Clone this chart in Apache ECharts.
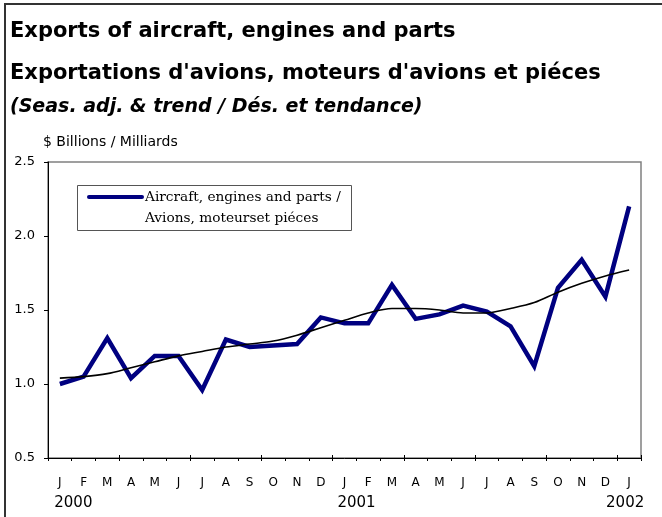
<!DOCTYPE html>
<html>
<head>
<meta charset="utf-8">
<script src="https://cdn.jsdelivr.net/npm/echarts@6/dist/echarts.min.js"></script>
<style>
  html, body { margin: 0; padding: 0; background: #fff; }
  #chart { width: 662px; height: 517px; }
</style>
</head>
<body>
<div id="chart"></div>
<script>
// monthly periods, Jan 2000 .. Jan 2002
var periods = ['2000-01','2000-02','2000-03','2000-04','2000-05','2000-06','2000-07','2000-08','2000-09','2000-10','2000-11','2000-12',
               '2001-01','2001-02','2001-03','2001-04','2001-05','2001-06','2001-07','2001-08','2001-09','2001-10','2001-11','2001-12',
               '2002-01']
var monthLetters = ['J','F','M','A','M','J','J','A','S','O','N','D']
var yearLabels = ['2000','2001','2002']

// $ billions
var exportsSA = [1.00,1.05,1.31,1.04,1.19,1.19,0.96,1.30,1.25,1.26,1.27,1.45,
                 1.41,1.41,1.67,1.44,1.47,1.53,1.49,1.39,1.12,1.65,1.84,1.59,
                 2.20]
var exportsTrend = [1.04,1.05,1.07,1.11,1.15,1.19,1.22,1.25,1.27,1.29,1.33,1.38,
                    1.43,1.48,1.51,1.51,1.50,1.48,1.48,1.51,1.55,1.62,1.68,1.73,
                    1.77]

var yTicks = [0.5, 2.5, 0.5] // min, max, interval

var chart = echarts.init(document.getElementById('chart'))

var labelFont = 'DejaVu Sans'

function xLabel(value, index) {
  var m = monthLetters[Number(value.slice(5, 7)) - 1]
  if (value.slice(5, 7) == '01') {
    var yr = value.slice(0, 4)
    var key = yr == yearLabels[0] ? 'y0' : (yr == yearLabels[1] ? 'y1' : 'y2')
    return '{m|' + m + '}\n{' + key + '|' + yr + '}'
  }
  return '{m|' + m + '}'
}

var option = {
  animation: false,
  backgroundColor: '#fff',
  title: [
    {
      text: 'Exports of aircraft, engines and parts',
      left: 10, top: 20, padding: 0,
      textStyle: { fontFamily: labelFont, fontWeight: 'bold', fontSize: 21, lineHeight: 24, color: '#000' }
    },
    {
      text: "Exportations d'avions, moteurs d'avions et piéces",
      left: 10, top: 62, padding: 0,
      textStyle: { fontFamily: labelFont, fontWeight: 'bold', fontSize: 21, lineHeight: 24, color: '#000' }
    },
    {
      text: '(Seas. adj. & trend / Dés. et tendance)',
      left: 10, top: 96, padding: 0,
      textStyle: { fontFamily: labelFont, fontWeight: 'bold', fontStyle: 'italic', fontSize: 19, lineHeight: 22, color: '#000' }
    },
    {
      text: '$ Billions / Milliards',
      left: 43, top: 134, padding: 0,
      textStyle: { fontFamily: labelFont, fontWeight: 'normal', fontSize: 14, lineHeight: 16, color: '#000' }
    }
  ],
  grid: {
    left: 48, right: 21, top: 162, bottom: 59,
    show: true, borderColor: '#808080', borderWidth: 1.5, backgroundColor: 'transparent'
  },
  xAxis: [
    {
      type: 'category',
      data: periods,
      boundaryGap: true,
      axisLine: { lineStyle: { color: '#000', width: 1 } },
      axisTick: { show: true, length: 3, lineStyle: { color: '#000' } },
      axisLabel: {
        interval: 0,
        margin: 14,
        formatter: xLabel,
        rich: {
          m: { fontFamily: labelFont, fontSize: 12, color: '#000', lineHeight: 21, align: 'center' },
          y0: { fontFamily: labelFont, fontSize: 15, color: '#000', lineHeight: 21, padding: [0, 0, 0, 27] },
          y1: { fontFamily: labelFont, fontSize: 15, color: '#000', lineHeight: 21, padding: [0, 0, 0, 24] },
          y2: { fontFamily: labelFont, fontSize: 15, color: '#000', lineHeight: 21, padding: [0, 8, 0, 0] }
        }
      },
      splitLine: { show: false }
    },
    {
      // inner half of the crossing ticks
      type: 'category',
      data: periods,
      position: 'bottom',
      boundaryGap: true,
      axisLine: { show: false },
      axisTick: { show: true, inside: true, length: 3, lineStyle: { color: '#000' } },
      axisLabel: { show: false },
      splitLine: { show: false }
    }
  ],
  yAxis: {
    type: 'value',
    min: yTicks[0], max: yTicks[1], interval: yTicks[2],
    axisLine: { show: true, lineStyle: { color: '#000', width: 1 } },
    axisTick: { show: true, length: 4, lineStyle: { color: '#000' } },
    axisLabel: {
      margin: 13,
      fontFamily: labelFont, fontSize: 13, color: '#000',
      formatter: function (v) { return v.toFixed(1) }
    },
    splitLine: { show: false }
  },
  series: [
    {
      name: 'Aircraft, engines and parts / Avions, moteurset piéces',
      type: 'line',
      data: exportsSA,
      showSymbol: false,
      symbol: 'none',
      lineStyle: { color: '#000080', width: 4.5, join: 'miter' },
      itemStyle: { color: '#000080' },
      z: 2
    },
    {
      name: 'Trend',
      type: 'line',
      data: exportsTrend,
      smooth: 0.3,
      showSymbol: false,
      symbol: 'none',
      lineStyle: { color: '#000', width: 1.6 },
      itemStyle: { color: '#000' },
      z: 3
    }
  ],
  graphic: [
    // outer frame (left and top)
    { type: 'polyline', shape: { points: [[5, 517], [5, 4], [662, 4]] }, style: { stroke: '#333', lineWidth: 2, fill: null } },
    // legend box
    {
      type: 'group', left: 77, top: 185,
      children: [
        { type: 'rect', shape: { x: 0.5, y: 0.5, width: 274, height: 45 }, style: { fill: '#fff', stroke: '#555', lineWidth: 1 } },
        { type: 'line', shape: { x1: 12, y1: 12, x2: 65, y2: 12 }, style: { stroke: '#000080', lineWidth: 4, lineCap: 'round' } },
        { type: 'text', x: 68, y: 12, style: { text: 'Aircraft, engines and parts /', font: '13.7px "DejaVu Serif"', fill: '#000', textVerticalAlign: 'middle' } },
        { type: 'text', x: 68, y: 33, style: { text: 'Avions, moteurset piéces', font: '13.7px "DejaVu Serif"', fill: '#000', textVerticalAlign: 'middle' } }
      ]
    }
  ]
}

chart.setOption(option)
</script>
</body>
</html>
